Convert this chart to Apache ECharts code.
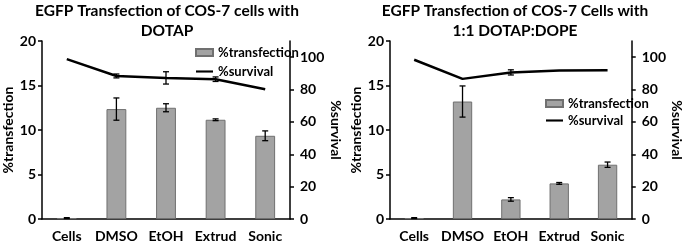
<!DOCTYPE html>
<html>
<head>
<meta charset="utf-8">
<script src="https://cdn.jsdelivr.net/npm/echarts@6/dist/echarts.min.js"></script>
<style>
  html, body { margin: 0; padding: 0; background: #fff; }
  #chart { width: 685px; height: 243px; }
</style>
</head>
<body>
<div id="chart"></div>
<script>
const categories = ['Cells', 'DMSO', 'EtOH', 'Extrud', 'Sonic']

// left panel: DOTAP
const dotapTransfection = [0.1, 12.35, 12.5, 11.15, 9.35]
const dotapTransfErr = [0.05, 1.25, 0.45, 0.1, 0.55]
const dotapSurvival = [98.8, 88.4, 87.2, 86.4, 80.2]
const dotapSurvErr = [0, 1.2, 3.8, 1.4, 0]

// right panel: 1:1 DOTAP:DOPE
const dopeTransfection = [0.1, 13.2, 2.2, 4.0, 6.1]
const dopeTransfErr = [0.05, 1.75, 0.2, 0.1, 0.3]
const dopeSurvival = [98.4, 86.6, 90.6, 91.8, 92.0]
const dopeSurvErr = [0, 0, 1.6, 0, 0]

const bold = { fontFamily: 'Lato', fontWeight: 'bold', color: '#000' }

const errData = (vals, errs) => vals.map((v, i) => [i, v, errs[i]])

const renderErr = (params, api) => {
  const err = api.value(2)
  if (!err) return
  const hi = api.coord([api.value(0), api.value(1) + err])
  const lo = api.coord([api.value(0), api.value(1) - err])
  const style = { stroke: '#000', lineWidth: 1.3 }
  return {
    type: 'group',
    children: [
      { type: 'line', shape: { x1: hi[0], y1: hi[1], x2: lo[0], y2: lo[1] }, style },
      { type: 'line', shape: { x1: hi[0] - 3, y1: hi[1], x2: hi[0] + 3, y2: hi[1] }, style },
      { type: 'line', shape: { x1: lo[0] - 3, y1: lo[1], x2: lo[0] + 3, y2: lo[1] }, style }
    ]
  }
}

const xAxis = (gridIndex) => ({
  type: 'category',
  gridIndex,
  data: categories,
  axisLine: { lineStyle: { color: '#000', width: 1.5 } },
  axisTick: { show: false },
  axisLabel: { ...bold, fontSize: 14, margin: 10, interval: 0 }
})

const leftAxis = (gridIndex) => ({
  type: 'value',
  gridIndex,
  min: 0,
  max: 20,
  interval: 5,
  name: '%transfection',
  nameLocation: 'middle',
  nameRotate: 90,
  nameGap: 19,
  nameTextStyle: { ...bold, fontSize: 14 },
  splitLine: { show: false },
  axisLine: { show: true, lineStyle: { color: '#000', width: 1.5 } },
  axisTick: { show: true, inside: false, length: 4, lineStyle: { color: '#000', width: 1.5 } },
  axisLabel: { ...bold, fontSize: 14, margin: 6 }
})

const rightAxis = (gridIndex) => ({
  type: 'value',
  gridIndex,
  position: 'right',
  min: 0,
  max: 110,
  interval: 20,
  name: '%survival',
  nameLocation: 'middle',
  nameRotate: -90,
  nameGap: 36,
  nameTextStyle: { ...bold, fontSize: 14 },
  splitLine: { show: false },
  axisLine: { show: true, lineStyle: { color: '#000', width: 1.5 } },
  axisTick: { show: true, inside: false, length: 4, lineStyle: { color: '#000', width: 1.5 } },
  axisLabel: { ...bold, fontSize: 14, margin: 10, showMaxLabel: false }
})

const barSeries = (xi, yi, data) => ({
  name: '%transfection',
  type: 'bar',
  xAxisIndex: xi,
  yAxisIndex: yi,
  data,
  barWidth: '40%',
  itemStyle: { color: '#a3a3a3', borderColor: '#707070', borderWidth: 1 }
})

const lineSeries = (xi, yi, data) => ({
  name: '%survival',
  type: 'line',
  xAxisIndex: xi,
  yAxisIndex: yi,
  data,
  symbol: 'none',
  lineStyle: { color: '#000', width: 2.5 },
  itemStyle: { color: '#000' },
  z: 3
})

const errSeries = (xi, yi, data) => ({
  type: 'custom',
  xAxisIndex: xi,
  yAxisIndex: yi,
  data,
  renderItem: renderErr,
  z: 5,
  silent: true
})

const legendData = [
  { name: '%transfection', icon: 'rect' },
  { name: '%survival', icon: 'path://M0,0L40,0L40,5L0,5Z' }
]

const chart = echarts.init(document.getElementById('chart'), null, { renderer: 'canvas' })

chart.setOption({
  animation: false,
  title: [
    {
      text: 'EGFP Transfection of COS-7 cells with\nDOTAP',
      left: 167, top: 1, padding: 0, textAlign: 'center',
      textStyle: { ...bold, fontSize: 15.5, lineHeight: 20 }
    },
    {
      text: 'EGFP Transfection of COS-7 Cells with\n1:1 DOTAP:DOPE',
      left: 515, top: 1, padding: 0, textAlign: 'center',
      textStyle: { ...bold, fontSize: 15.5, lineHeight: 20 }
    }
  ],
  legend: [
    {
      data: legendData, orient: 'vertical', left: 190, top: 41,
      itemWidth: 17, itemHeight: 7, itemGap: 6,
      textStyle: { ...bold, fontSize: 13 }
    },
    {
      data: legendData, orient: 'vertical', left: 540, top: 92,
      itemWidth: 17, itemHeight: 7, itemGap: 4,
      textStyle: { ...bold, fontSize: 13 }
    }
  ],
  grid: [
    { left: 42, right: 395, top: 41, bottom: 24 },
    { left: 390, right: 40, top: 41, bottom: 24 }
  ],
  xAxis: [xAxis(0), xAxis(1)],
  yAxis: [leftAxis(0), rightAxis(0), leftAxis(1), rightAxis(1)],
  series: [
    barSeries(0, 0, dotapTransfection),
    lineSeries(0, 1, dotapSurvival),
    errSeries(0, 0, errData(dotapTransfection, dotapTransfErr)),
    errSeries(0, 1, errData(dotapSurvival, dotapSurvErr)),
    barSeries(1, 2, dopeTransfection),
    lineSeries(1, 3, dopeSurvival),
    errSeries(1, 2, errData(dopeTransfection, dopeTransfErr)),
    errSeries(1, 3, errData(dopeSurvival, dopeSurvErr))
  ]
})
</script>
</body>
</html>
